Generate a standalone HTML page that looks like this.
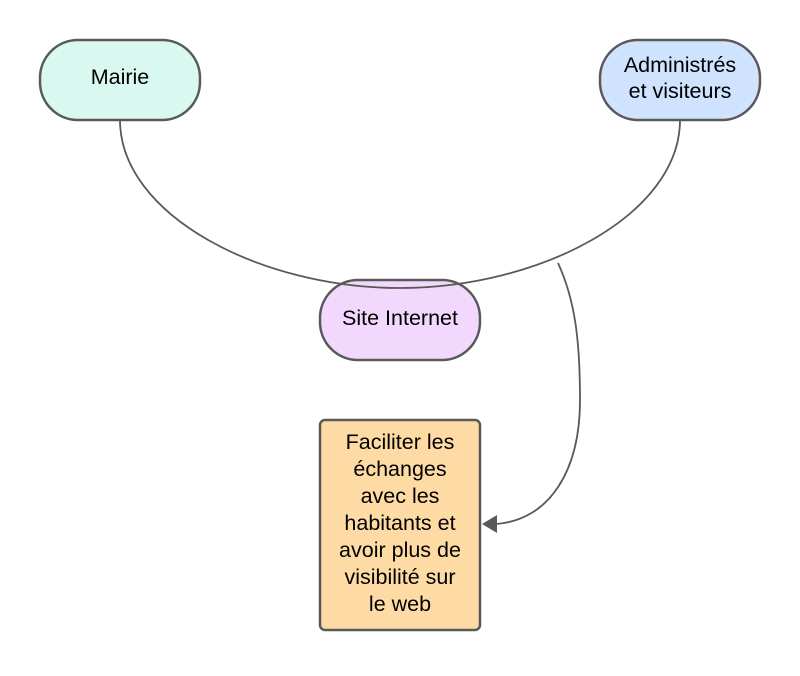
<!DOCTYPE html>
<html><head><meta charset="utf-8"><style>
body{margin:0;background:#fff;}
svg text{font-family:"Liberation Sans",sans-serif;font-size:21.5px;fill:#000;text-anchor:middle;}
</style></head><body>
<svg width="800" height="671" viewBox="0 0 800 671" xmlns="http://www.w3.org/2000/svg">
<rect x="40" y="40" width="160" height="80" rx="38" fill="#d9f8f0" stroke="#595959" stroke-width="2.5"/>
<text x="120" y="84">Mairie</text>
<rect x="600" y="40" width="160" height="80" rx="38" fill="#cfe3fe" stroke="#595959" stroke-width="2.5"/>
<text x="680" y="72">Administrés</text>
<text x="680" y="98">et visiteurs</text>
<rect x="320" y="280" width="160" height="80" rx="38" fill="#f1d8fc" stroke="#595959" stroke-width="2.5"/>
<text x="400" y="325">Site Internet</text>
<rect x="320" y="420" width="160" height="210" rx="5" fill="#fedba4" stroke="#595959" stroke-width="2.5"/>
<text x="400" y="449">Faciliter les</text>
<text x="400" y="476">échanges</text>
<text x="400" y="503">avec les</text>
<text x="400" y="530">habitants et</text>
<text x="400" y="557">avoir plus de</text>
<text x="400" y="584">visibilité sur</text>
<text x="400" y="611">le web</text>
<path d="M120 120 C120 215 260 288 400 288 C540 288 680 215 680 120" fill="none" stroke="#595959" stroke-width="1.8"/>
<path d="M558 263 C575 300 580 340 580 400 C580 470 550 520 496 524" fill="none" stroke="#595959" stroke-width="1.8"/>
<polygon points="482,524 497,515 497,533" fill="#595959"/>
</svg>
</body></html>
